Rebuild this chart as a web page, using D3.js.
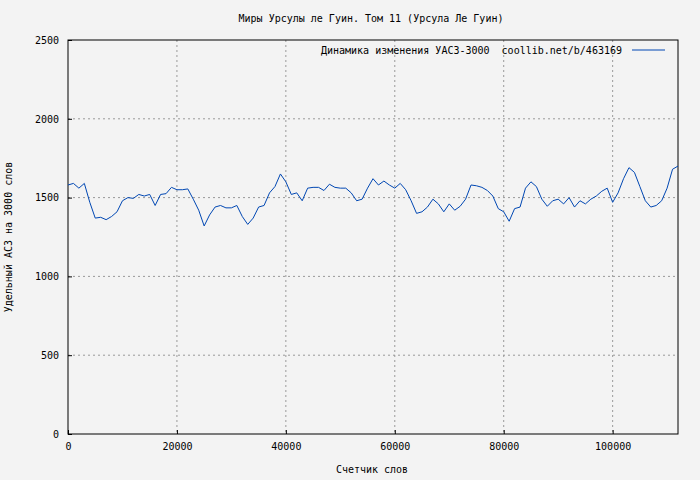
<!DOCTYPE html><html><head><meta charset="utf-8"><script src="https://cdn.jsdelivr.net/npm/d3@7"></script>
<style>body{margin:0;background:#f3f3f3}svg{display:block}text{font-family:"DejaVu Sans Mono";font-size:10px;fill:#000}</style></head><body>
<script>
const xStep = 1000;
const values = [1580,1590,1560,1590,1470,1370,1375,1360,1380,1410,1480,1500,1495,1520,1510,1520,1450,1520,1525,1565,1550,1550,1555,1490,1420,1320,1390,1440,1450,1435,1435,1450,1380,1330,1370,1440,1450,1530,1570,1650,1600,1520,1530,1480,1560,1565,1565,1545,1585,1565,1560,1560,1530,1480,1490,1560,1620,1580,1605,1580,1560,1590,1550,1480,1400,1410,1440,1490,1460,1410,1460,1420,1445,1490,1580,1575,1565,1545,1510,1430,1410,1350,1430,1440,1560,1600,1570,1490,1445,1480,1490,1460,1500,1440,1480,1460,1490,1510,1540,1560,1470,1530,1620,1690,1660,1570,1480,1440,1450,1480,1560,1680,1700];
const xTicks = [0,20000,40000,60000,80000,100000];
const yTicks = [0,500,1000,1500,2000,2500];
const title = "Миры Урсулы ле Гуин. Том 11 (Урсула Ле Гуин)";
const legendText = "Динамика изменения УАСЗ-3000  coollib.net/b/463169";
const W=700,H=480,L=68,R=678,T=40,B=434;
const svg=d3.select("body").append("svg").attr("width",W).attr("height",H);
const x=d3.scaleLinear().domain([0,112000]).range([L,R]);
const y=d3.scaleLinear().domain([0,2500]).range([B,T]);
const g=svg.append("g");
xTicks.forEach(t=>{if(t>0)g.append("line").attr("x1",x(t)).attr("x2",x(t)).attr("y1",T).attr("y2",B).attr("stroke","#999").attr("stroke-dasharray","2,3");});
yTicks.forEach(t=>{if(t>0&&t<2500)g.append("line").attr("x1",L).attr("x2",R).attr("y1",y(t)).attr("y2",y(t)).attr("stroke","#999").attr("stroke-dasharray","2,3");});
g.append("rect").attr("x",L).attr("y",T).attr("width",R-L).attr("height",B-T).attr("fill","none").attr("stroke","#000");
svg.append("g").attr("transform",`translate(0,${B})`).call(d3.axisBottom(x).tickValues(xTicks).tickFormat(d3.format("d")).tickSize(-4).tickPadding(9)).call(a=>a.select(".domain").remove());
svg.append("g").attr("transform",`translate(${L},0)`).call(d3.axisLeft(y).tickValues(yTicks).tickFormat(d3.format("d")).tickSize(-4).tickPadding(9)).call(a=>a.select(".domain").remove());
svg.selectAll(".tick text").attr("font-size",10).attr("font-family","DejaVu Sans Mono");
const line=d3.line().x((d,i)=>x(i*xStep)).y(d=>y(d));
svg.append("path").datum(values).attr("d",line).attr("fill","none").attr("stroke","#0047b3").attr("stroke-width",1);
svg.append("text").attr("x",371).attr("y",22).attr("text-anchor","middle").text(title);
svg.append("text").attr("x",372).attr("y",473).attr("text-anchor","middle").text("Счетчик слов");
svg.append("text").attr("transform","translate(12,237) rotate(-90)").attr("text-anchor","middle").text("Удельный АСЗ на 3000 слов");
svg.append("text").attr("x",622).attr("y",54).attr("text-anchor","end").attr("xml:space","preserve").text(legendText);
svg.append("line").attr("x1",632).attr("x2",665).attr("y1",50).attr("y2",50).attr("stroke","#0047b3");
</script></body></html>
